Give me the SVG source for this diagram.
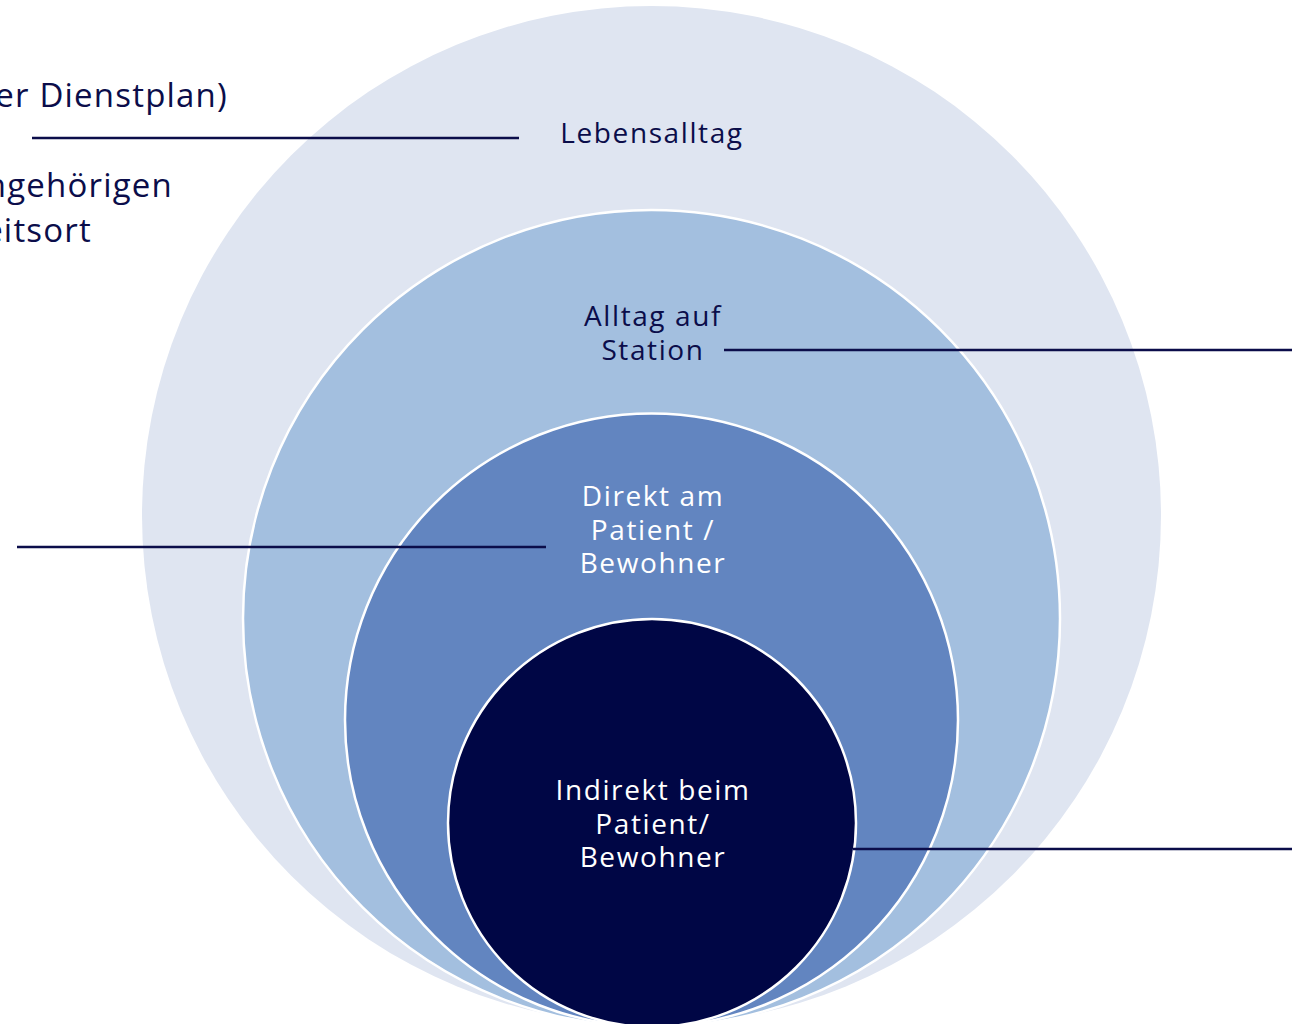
<svg xmlns="http://www.w3.org/2000/svg" width="1292" height="1024" viewBox="0 0 1292 1024">
<style>
.ring{stroke:#ffffff;stroke-width:2.5}
.dk{font-family:"Open Sans","Noto Sans",sans-serif;font-size:28px;fill:#0b0d4a;letter-spacing:1.6px}
.lt{font-family:"Open Sans","Noto Sans",sans-serif;font-size:28px;fill:#ffffff;letter-spacing:1.6px}
.side{font-family:"Open Sans","Noto Sans",sans-serif;font-size:33px;fill:#0b0d4a;letter-spacing:1.2px}
.con{stroke:#0b0d4a;stroke-width:2.5;fill:none}
</style>
<rect width="1292" height="1024" fill="#ffffff"/>
<g id="lebensalltag">
<circle cx="651.5" cy="515.5" r="509.5" fill="#dfe5f1"/>
<text class="dk" x="652" y="143" text-anchor="middle" font-size="26">Lebensalltag</text>
</g>
<g id="station">
<circle class="ring" cx="651.5" cy="618.5" r="408.5" fill="#a3bfdf"/>
<text class="dk" text-anchor="middle"><tspan x="653" y="326">Alltag auf</tspan><tspan x="653" y="360">Station</tspan></text>
</g>
<g id="direkt">
<circle class="ring" cx="651.5" cy="720" r="306.5" fill="#6285c0"/>
<text class="lt" text-anchor="middle"><tspan x="653" y="506">Direkt am</tspan><tspan x="653" y="540">Patient /</tspan><tspan x="653" y="573">Bewohner</tspan></text>
</g>
<g id="indirekt">
<circle class="ring" cx="652" cy="823" r="204" fill="#000645"/>
<text class="lt" text-anchor="middle"><tspan x="653" y="800">Indirekt beim</tspan><tspan x="653" y="834">Patient/</tspan><tspan x="653" y="867">Bewohner</tspan></text>
</g>
<g id="side-texts">
<text class="side" x="228" y="107" text-anchor="end">er Dienstplan)</text>
<text class="side" x="173" y="197" text-anchor="end">ngehörigen</text>
<text class="side" x="92" y="242" text-anchor="end">eitsort</text>
</g>
<g id="connectors">
<line class="con" x1="32" y1="138" x2="519" y2="138"/>
<line class="con" x1="724" y1="350" x2="1292" y2="350"/>
<line class="con" x1="17" y1="547" x2="546" y2="547"/>
<line class="con" x1="853" y1="849" x2="1292" y2="849"/>
</g>
</svg>
